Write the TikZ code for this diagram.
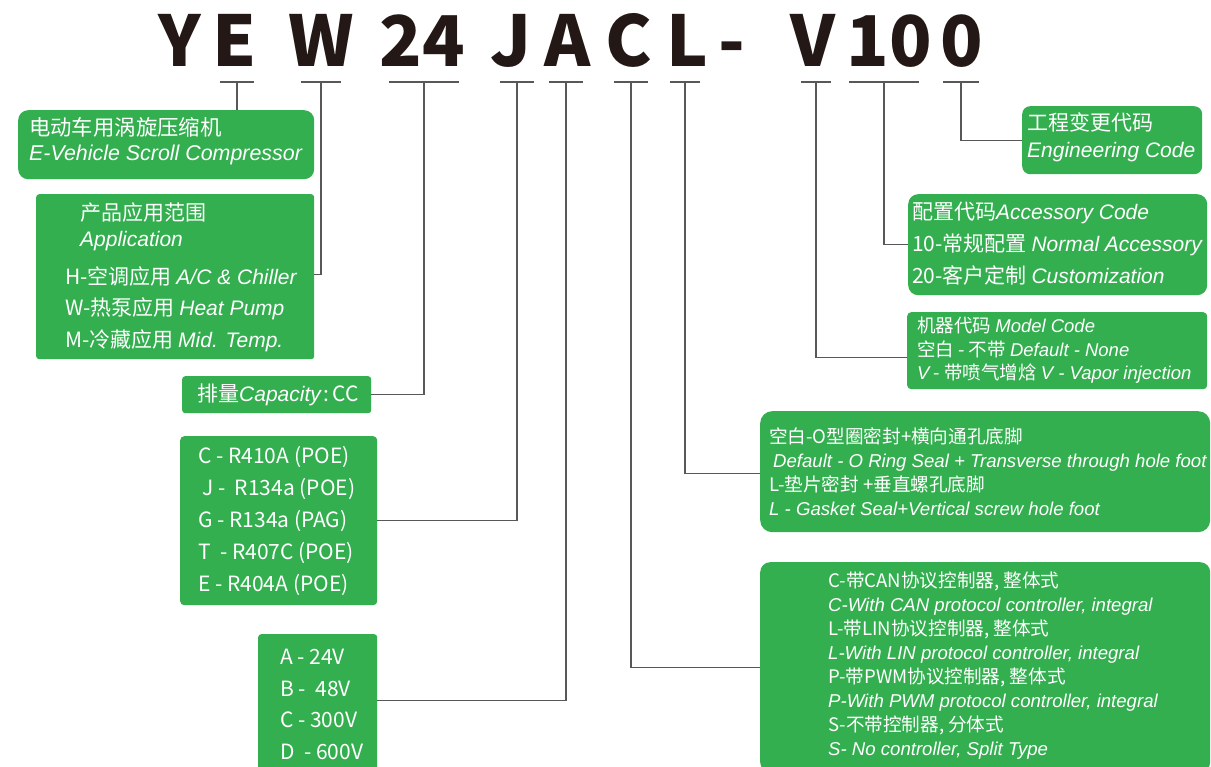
\documentclass[tikz,border=0pt]{standalone}
\usepackage{fontspec}
\setmainfont{Noto Sans CJK SC}
\newfontfamily\latin{Liberation Sans}
\usetikzlibrary{positioning,calc}
\definecolor{ink}{HTML}{231815}
\definecolor{wirec}{HTML}{595757}
\definecolor{leaf}{HTML}{33AF4F}
\tikzset{
  codechar/.style={font=\fontsize{70}{70}\selectfont\bfseries, text=ink, inner sep=0pt, anchor=base},
  tick/.style={draw=wirec, line width=1.1pt},
  wire/.style={draw=wirec, line width=1.1pt},
  gbox/.style={fill=leaf, draw=none, anchor=north west, inner sep=0pt},
  gtxt/.style={text=white, anchor=west, align=left, inner sep=0pt},
}
\newcommand{\eng}[1]{{\latin\itshape #1}}

\begin{document}
\begin{tikzpicture}[x=1pt,y=-1pt]
\useasboundingbox (0,0) rectangle (1211,767);
\fill[white] (0,0) rectangle (1211,767);
\clip (0,0) rectangle (1211,767);

% code letters
\node[codechar] (cY) at (180,67) {Y};
\node[codechar] (cE) at (235,67) {E};
\node[codechar] (cW) at (321,67) {W};
\node[codechar] (cCap) at (422,67) {24};
\node[codechar] (cJ) at (511,67) {J};
\node[codechar] (cA) at (568,67) {A};
\node[codechar] (cC) at (629,67) {C};
\node[codechar] (cL) at (687,67) {L};
\node[codechar] (cDash) at (732,67) {-};
\node[codechar] (cV) at (813,67) {V};
\node[codechar] (cAcc) at (889,67) {10};
\node[codechar] (cEng) at (962,67) {0};

% ticks under the letters
\foreach \n/\x/\w in {E/237/17, W/321/20, Cap/424/35, J/517/17, A/566/17,
                      C/631/17, L/685/15, V/816/15, Acc/884/35, Eng/961/18}{
  \coordinate (t\n) at (\x,82);
  \draw[tick] ([xshift=-\w pt]t\n) -- ([xshift=\w pt]t\n);
}

% left boxes
\node[gbox, rounded corners=10pt, minimum width=296pt, minimum height=69pt] (prod) at (18,110) {};
\node[gtxt, font=\fontsize{21.4}{25}\selectfont] (prodtxt) at (29,141.5)
  {电动车用涡旋压缩机\\\eng{E-Vehicle Scroll Compressor}};

\node[gbox, rounded corners=3pt, minimum width=278pt, minimum height=165pt] (app) at (36,194) {};
\node[gtxt, font=\fontsize{21}{26}\selectfont] (apptxt) at (65,277)
  {\hspace*{15pt}产品应用范围\\\hspace*{15pt}\eng{Application}\\[12pt]
   H-空调应用 \eng{A/C \& Chiller}\\[5pt]
   W-热泵应用 \eng{Heat Pump}\\[6pt]
   M-冷藏应用 \eng{Mid. Temp.}};

\node[gbox, rounded corners=3pt, minimum width=189pt, minimum height=37pt] (cap) at (182,376) {};
\node[gtxt, font=\fontsize{21}{25}\selectfont] (captxt) at (197,395)
  {排量\eng{Capacity}\hspace{3pt}:\hspace{3pt}CC};

\node[gbox, rounded corners=4pt, minimum width=197pt, minimum height=169pt] (ref) at (180,436) {};
\node[gtxt, font=\fontsize{21}{32}\selectfont] (reftxt) at (198,520.5)
  {C - R410A (POE)\\\hspace*{4pt}J - \ R134a (POE)\\G - R134a (PAG)\\T \ - R407C (POE)\\E - R404A (POE)};

\node[gbox, rounded corners=3pt, minimum width=119pt, minimum height=140pt] (volt) at (258,634) {};
\node[gtxt, font=\fontsize{21}{31.7}\selectfont] (volttxt) at (280,704.5)
  {A - 24V\\B - \ 48V\\C - 300V\\D \ - 600V};

% right boxes
\node[gbox, rounded corners=8pt, minimum width=180pt, minimum height=68pt] (eng) at (1022,106) {};
\node[gtxt, font=\fontsize{21}{27}\selectfont] (engtxt) at (1027,137.5)
  {工程变更代码\\\eng{Engineering Code}};

\node[gbox, rounded corners=10pt, minimum width=299pt, minimum height=101pt] (acc) at (908,194) {};
\node[gtxt, font=\fontsize{21}{32}\selectfont] (acctxt) at (912,244)
  {配置代码\eng{Accessory Code}\\10-常规配置 \eng{Normal Accessory}\\20-客户定制 \eng{Customization}};

\node[gbox, rounded corners=4pt, minimum width=300pt, minimum height=77pt] (model) at (907,312) {};
\node[gtxt, font=\fontsize{18.5}{23.5}\selectfont] (modeltxt) at (917,350.5)
  {机器代码 \eng{Model Code}\\空白 - 不带 \eng{Default - None}\\\eng{V} - 带喷气增焓 \eng{V - Vapor injection}};

\node[gbox, rounded corners=12pt, minimum width=450pt, minimum height=121pt] (seal) at (760,411) {};
\node[gtxt, font=\fontsize{18.6}{24}\selectfont] (sealtxt) at (769,472)
  {空白-O型圈密封+横向通孔底脚\\\hspace*{4pt}\eng{Default - O Ring Seal + Transverse through hole foot}\\
   L-垫片密封 +垂直螺孔底脚\\\eng{L - Gasket Seal+Vertical screw hole foot}};

\node[gbox, rounded corners=10pt, minimum width=450pt, minimum height=210pt] (ctrl) at (760,562) {};
\node[gtxt, font=\fontsize{18.6}{24}\selectfont] (ctrltxt) at (828,666)
  {C-带CAN协议控制器, 整体式\\\eng{C-With CAN protocol controller, integral}\\
   L-带LIN协议控制器, 整体式\\\eng{L-With LIN protocol controller, integral}\\
   P-带PWM协议控制器, 整体式\\\eng{P-With PWM protocol controller, integral}\\
   S-不带控制器, 分体式\\\eng{S- No controller, Split Type}};

% connectors
\draw[wire] (tE) -- (tE |- prod.north);
\draw[wire] (tW) |- ([yshift=2.5pt]app.east);
\draw[wire] (tCap) |- (cap.east);
\draw[wire] (tJ) |- (ref.east);
\draw[wire] (tA) |- ([yshift=4pt]volt.east);
\draw[wire] (tC) |- (ctrl.west);
\draw[wire] (tL) |- ([yshift=-1.5pt]seal.west);
\draw[wire] (tV) |- ([yshift=-6.5pt]model.west);
\draw[wire] (tAcc) |- (acc.west);
\draw[wire] (tEng) |- (eng.west);
\end{tikzpicture}
\end{document}
